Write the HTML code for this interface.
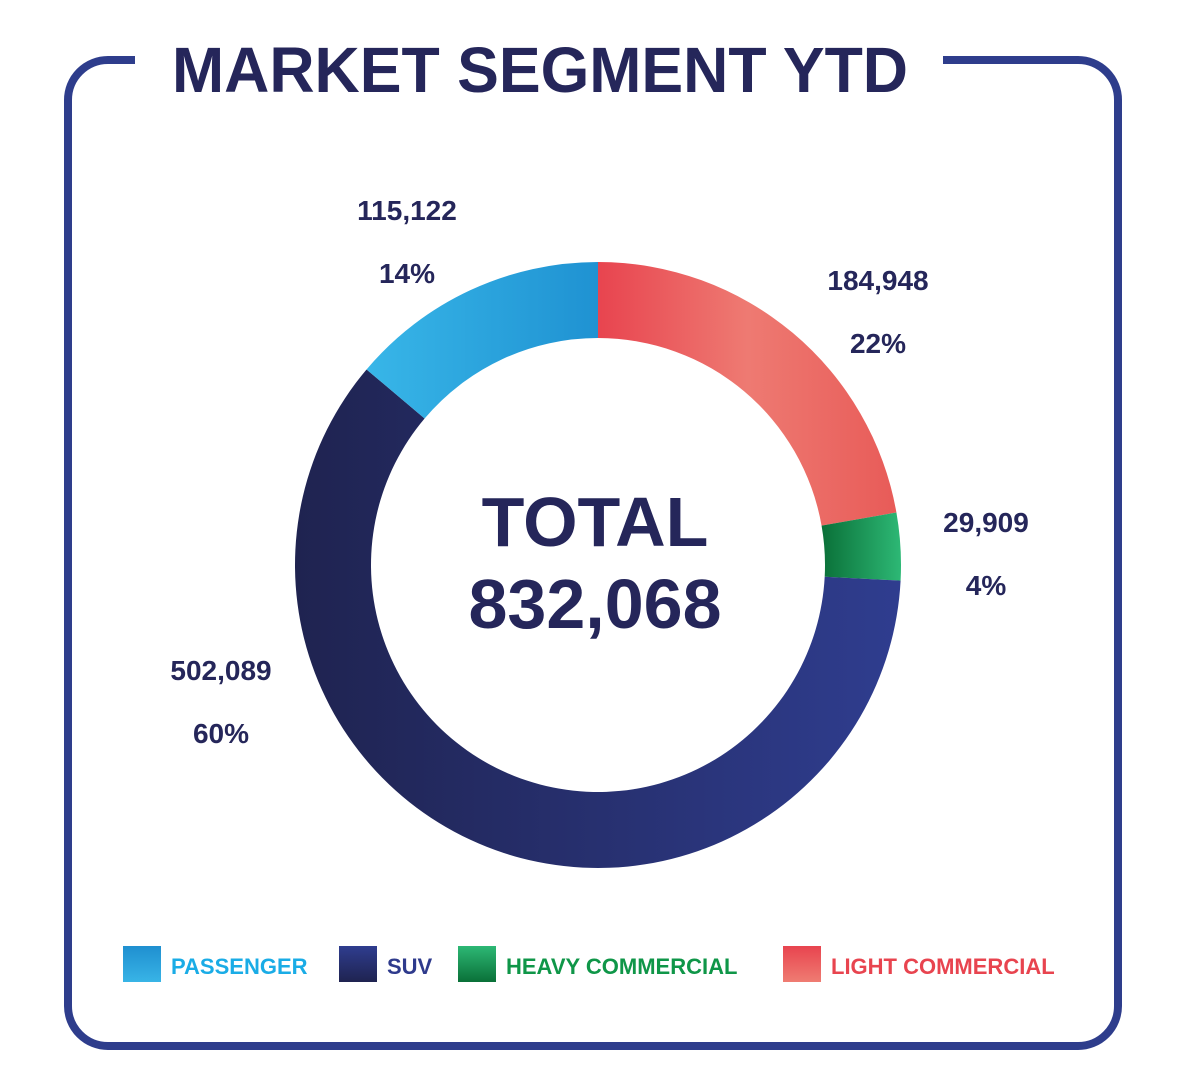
<!DOCTYPE html>
<html><head><meta charset="utf-8"><style>
html,body{margin:0;padding:0;background:#fff;}
svg{display:block;font-family:"Liberation Sans",sans-serif;font-weight:bold;}
</style></head><body>
<svg id="chart" width="1187" height="1085" viewBox="0 0 1187 1085">
<defs>
<linearGradient id="g0" x1="0" y1="0" x2="1" y2="0"><stop offset="0" stop-color="#e8444f"/><stop offset="0.5" stop-color="#ee7a72"/><stop offset="1" stop-color="#e85b58"/></linearGradient>
<linearGradient id="g1" x1="0" y1="0" x2="1" y2="0"><stop offset="0" stop-color="#0a7038"/><stop offset="1" stop-color="#2db875"/></linearGradient>
<linearGradient id="g2" x1="0" y1="0" x2="1" y2="0"><stop offset="0" stop-color="#1f2350"/><stop offset="1" stop-color="#2f3d8f"/></linearGradient>
<linearGradient id="g3" x1="0" y1="0" x2="1" y2="0"><stop offset="0" stop-color="#38b6e8"/><stop offset="1" stop-color="#1f92d2"/></linearGradient>
<linearGradient id="s0" x1="0" y1="0" x2="0" y2="1"><stop offset="0" stop-color="#1f8fd0"/><stop offset="1" stop-color="#38b4e6"/></linearGradient>
<linearGradient id="s1" x1="0" y1="0" x2="0" y2="1"><stop offset="0" stop-color="#2f3d8f"/><stop offset="1" stop-color="#1f2350"/></linearGradient>
<linearGradient id="s2" x1="0" y1="0" x2="0" y2="1"><stop offset="0" stop-color="#2db875"/><stop offset="1" stop-color="#0a7038"/></linearGradient>
<linearGradient id="s3" x1="0" y1="0" x2="0" y2="1"><stop offset="0" stop-color="#e8444f"/><stop offset="1" stop-color="#ef7c72"/></linearGradient>
</defs>
<path d="M135 60 H108 A40 40 0 0 0 68 100 V1006 A40 40 0 0 0 108 1046 H1078 A40 40 0 0 0 1118 1006 V100 A40 40 0 0 0 1078 60 H943" fill="none" stroke="#2e3d8c" stroke-width="8"/>
<text x="540" y="92" text-anchor="middle" font-size="64" fill="#25265a" textLength="736" lengthAdjust="spacingAndGlyphs">MARKET SEGMENT YTD</text>
<g id="slices"></g>
<g id="labels"></g>
<text x="595" y="546" text-anchor="middle" font-size="70" fill="#25265a">TOTAL</text>
<text x="595" y="628" text-anchor="middle" font-size="70" fill="#25265a" id="totalVal"></text>
<g id="legend"></g>
</svg>
<script>
const categories=["LIGHT COMMERCIAL","HEAVY COMMERCIAL","SUV","PASSENGER"];
const values=[184948,29909,502089,115122];
const percentLabels=["22%","4%","60%","14%"];
const legendOrder=["PASSENGER","SUV","HEAVY COMMERCIAL","LIGHT COMMERCIAL"];
const NS="http://www.w3.org/2000/svg";
const cx=598,cy=565,R=303,r=227;
const fills=["url(#g0)","url(#g1)","url(#g2)","url(#g3)"];
const labelPos=[[878,280],[986,522],[221,670],[407,210]];
const total=values.reduce((a,b)=>a+b,0);
document.getElementById('totalVal').textContent=total.toLocaleString('en-US');
function pt(a,rad){return [cx+rad*Math.sin(a),cy-rad*Math.cos(a)];}
let acc=0;
const sg=document.getElementById('slices'),lg=document.getElementById('labels');
values.forEach((v,i)=>{
 const a0=acc/total*2*Math.PI;acc+=v;const a1=acc/total*2*Math.PI;
 const large=(a1-a0)>Math.PI?1:0;
 const p1=pt(a0,R),p2=pt(a1,R),p3=pt(a1,r),p4=pt(a0,r);
 const p=document.createElementNS(NS,'path');
 p.setAttribute('d',`M${p1} A${R} ${R} 0 ${large} 1 ${p2} L${p3} A${r} ${r} 0 ${large} 0 ${p4}Z`);
 p.setAttribute('fill',fills[i]);
 
 
 sg.appendChild(p);
 const [lx,ly]=labelPos[i];
 const t1=document.createElementNS(NS,'text');
 t1.setAttribute('x',lx);t1.setAttribute('y',ly+10);t1.setAttribute('text-anchor','middle');
 t1.setAttribute('font-size','28');t1.setAttribute('fill','#25265a');
 t1.textContent=v.toLocaleString('en-US');
 
 
 lg.appendChild(t1);
 const t2=document.createElementNS(NS,'text');
 t2.setAttribute('x',lx);t2.setAttribute('y',ly+73);t2.setAttribute('text-anchor','middle');
 t2.setAttribute('font-size','28');t2.setAttribute('fill','#25265a');
 t2.textContent=percentLabels[i];
 
 
 lg.appendChild(t2);
});
const legX=[123,339,458,783],legC=["#1aace6","#2e3a8c","#0f9648","#e8444f"],legS=["url(#s0)","url(#s1)","url(#s2)","url(#s3)"];
const leg=document.getElementById('legend');
legendOrder.forEach((name,i)=>{
 const g=document.createElementNS(NS,'g');
 
 
 const rc=document.createElementNS(NS,'rect');
 rc.setAttribute('x',legX[i]);rc.setAttribute('y',946);rc.setAttribute('width',38);rc.setAttribute('height',36);
 rc.setAttribute('fill',legS[i]);
 
 
 g.appendChild(rc);
 const t=document.createElementNS(NS,'text');
 t.setAttribute('x',legX[i]+48);t.setAttribute('y',974);t.setAttribute('font-size','22');t.setAttribute('fill',legC[i]);
 t.textContent=name;
 
 
 g.appendChild(t);
 leg.appendChild(g);
});
</script>
</body></html>
